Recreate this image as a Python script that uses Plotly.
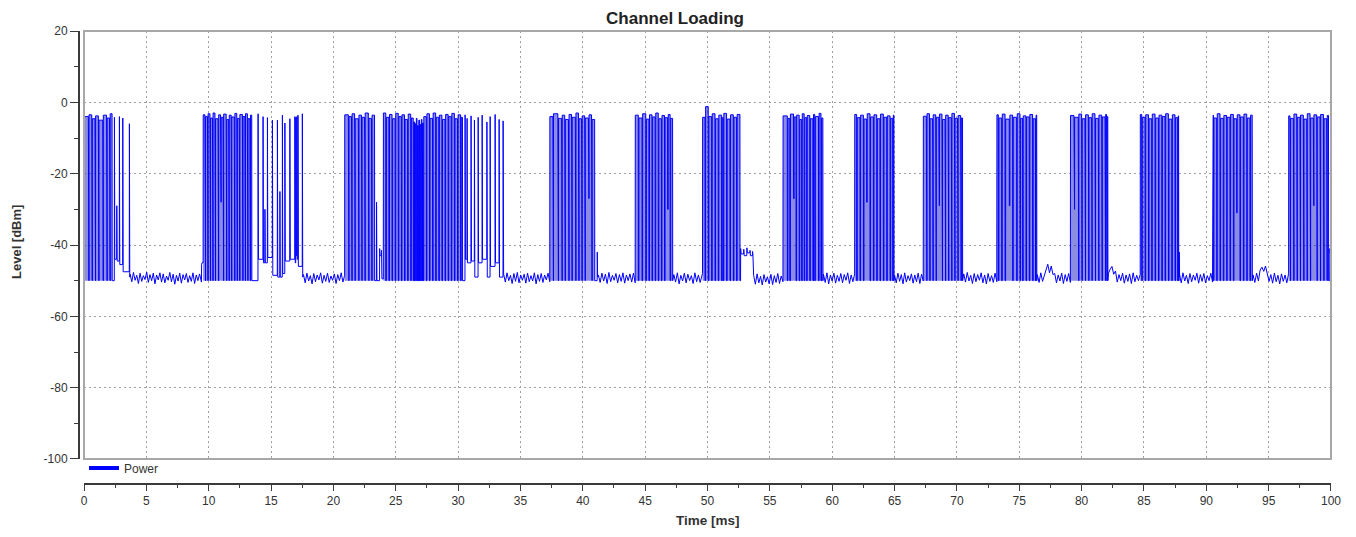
import numpy as np
import plotly.graph_objects as go

# ---------------- data ----------------
# burst windows [ms]
burst_start = [0.0, 9.4, 20.9, 37.35, 44.2, 49.55, 56.05, 61.8, 67.3, 73.2, 79.1, 84.7, 90.5, 96.6]
burst_end = [3.7, 17.6, 33.65, 41.25, 47.3, 53.7, 59.3, 65.0, 70.55, 76.45, 82.15, 87.85, 93.75, 100.0]

# continuously-on parts of each burst: (start ms, end ms, level dBm at start)
dense_blocks = [
    [(0.0, 2.25, -4.0)],
    [(9.55, 13.45, -3.5)],
    [(20.9, 23.3, -3.5), (24.0, 30.35, -3.0)],
    [(37.35, 40.95, -4.0)],
    [(44.2, 47.2, -3.6)],
    [(49.6, 52.6, -4.2)],
    [(56.05, 59.25, -3.8)],
    [(61.8, 64.95, -3.4)],
    [(67.3, 70.45, -3.9)],
    [(73.2, 76.4, -3.5)],
    [(79.1, 82.1, -3.7)],
    [(84.7, 87.78, -3.4)],
    [(90.5, 93.68, -3.6)],
    [(96.6, 99.8, -3.8)],
]

# short drops inside the on-parts: (time ms, lowest level dBm, level after dBm)
drops = [
    [(0.35, -50, -3.5), (0.62, -50, -4.6), (0.88, -50, -3.8), (1.15, -50, -5.0), (1.5, -50, -3.6),
     (1.81, -50, -4.4), (2.05, -50, -3.2)],
    [(9.7, -50, -4.0), (9.9, -50, -3.2), (10.1, -50, -4.4), (10.3, -50, -3.0), (10.5, -50, -4.6),
     (10.75, -50, -3.5), (10.95, -28, -4.2), (11.15, -50, -3.3), (11.4, -50, -4.8), (11.6, -50, -3.6),
     (11.8, -50, -4.1), (12.05, -50, -3.1), (12.25, -50, -4.5), (12.45, -50, -3.4), (12.7, -50, -4.0),
     (12.9, -50, -3.2), (13.1, -50, -4.6), (13.3, -50, -3.6)],
    [(21.2, -50, -4.0), (21.45, -50, -3.2), (21.7, -50, -4.6), (22.0, -50, -3.6), (22.25, -50, -4.2),
     (22.5, -50, -3.0), (22.8, -50, -4.5), (23.05, -50, -3.6),
     (24.2, -50, -4.2), (24.45, -50, -3.4), (24.7, -50, -4.6), (24.95, -50, -3.1), (25.2, -50, -4.0),
     (25.45, -50, -3.5), (25.7, -50, -4.8), (25.95, -50, -3.3), (26.2, -50, -4.4), (26.4, -50, -5.5),
     (26.5, -50, -6.0), (26.6, -50, -4.5), (26.7, -50, -6.5), (26.8, -50, -5.0), (26.9, -50, -6.2),
     (27.0, -50, -4.8), (27.1, -50, -5.8), (27.2, -50, -4.0), (27.45, -50, -3.2), (27.7, -50, -4.5),
     (27.95, -50, -3.0), (28.2, -50, -4.2), (28.45, -50, -3.6), (28.7, -50, -4.8), (28.95, -50, -3.4),
     (29.2, -50, -4.0), (29.45, -50, -3.1), (29.7, -50, -4.6), (29.95, -50, -3.5), (30.2, -50, -4.2)],
    [(37.6, -50, -3.2), (38.0, -50, -4.5), (38.3, -50, -3.6), (38.55, -50, -4.8), (38.85, -50, -3.4),
     (39.1, -50, -4.2), (39.4, -50, -3.0), (39.65, -50, -4.6), (39.9, -50, -3.8), (40.15, -50, -4.4),
     (40.45, -27, -3.5), (40.7, -50, -4.8)],
    [(44.45, -50, -4.4), (44.75, -50, -3.2), (45.05, -50, -4.7), (45.3, -50, -3.5), (45.55, -50, -4.1),
     (45.8, -50, -3.0), (46.05, -50, -4.6), (46.3, -50, -3.7), (46.55, -50, -4.3), (46.8, -30, -3.4),
     (47.0, -50, -4.5)],
    [(49.8, -50, -1.2), (50.06, -50, -4.0), (50.33, -50, -3.2), (50.6, -50, -4.6), (50.86, -50, -3.6),
     (51.13, -50, -4.3), (51.26, -50, -3.1), (51.53, -50, -4.7), (51.8, -50, -3.5), (52.07, -50, -4.2),
     (52.33, -50, -3.4)],
    [(56.4, -50, -4.5), (56.6, -50, -3.3), (56.9, -27, -4.1), (57.1, -50, -3.6), (57.35, -50, -4.8),
     (57.55, -50, -3.2), (57.75, -50, -4.3), (57.95, -50, -3.7), (58.2, -50, -4.6), (58.45, -50, -3.4),
     (58.6, -50, -4.0), (58.9, -50, -3.1), (59.1, -50, -4.4)],
    [(61.96, -50, -4.3), (62.23, -50, -3.6), (62.5, -50, -4.7), (62.76, -28, -3.2), (63.03, -50, -4.1),
     (63.3, -50, -3.5), (63.57, -50, -4.6), (63.83, -50, -3.3), (64.1, -50, -4.2), (64.37, -50, -3.8),
     (64.64, -50, -4.5), (64.85, -50, -3.6)],
    [(67.55, -50, -3.2), (67.8, -50, -4.6), (68.05, -50, -3.5), (68.3, -50, -4.2), (68.55, -29, -3.3),
     (68.8, -50, -4.8), (69.05, -50, -3.6), (69.3, -50, -4.3), (69.55, -50, -3.1), (69.8, -50, -4.5),
     (70.05, -50, -3.7), (70.3, -50, -4.4)],
    [(73.32, -50, -4.4), (73.59, -50, -3.3), (73.86, -50, -4.7), (74.2, -29, -3.6), (74.47, -50, -4.2),
     (74.79, -50, -3.2), (75.06, -50, -4.5), (75.27, -50, -3.8), (75.54, -50, -4.1), (75.8, -50, -3.4),
     (76.07, -50, -4.6), (76.3, -50, -3.6)],
    [(79.39, -30, -4.2), (79.73, -50, -3.3), (80.0, -50, -4.6), (80.27, -50, -3.5), (80.54, -50, -4.3),
     (80.8, -50, -3.2), (81.07, -50, -4.5), (81.34, -50, -3.6), (81.61, -50, -4.1), (81.88, -50, -3.4),
     (82.0, -50, -4.0)],
    [(84.82, -50, -4.2), (85.09, -50, -3.5), (85.36, -50, -4.6), (85.62, -50, -3.3), (85.89, -50, -4.4),
     (86.16, -50, -3.6), (86.43, -50, -4.0), (86.69, -50, -3.2), (86.96, -50, -4.7), (87.23, -50, -3.5),
     (87.49, -50, -4.3), (87.7, -50, -3.8)],
    [(90.56, -50, -4.4), (90.83, -50, -3.2), (91.1, -50, -4.5), (91.36, -50, -3.7), (91.63, -50, -4.2),
     (91.9, -50, -3.4), (92.17, -50, -4.6), (92.43, -31, -3.5), (92.7, -50, -4.1), (92.97, -50, -3.3),
     (93.24, -50, -4.4), (93.5, -50, -3.6)],
    [(96.71, -50, -4.5), (96.98, -50, -3.3), (97.25, -50, -4.2), (97.51, -50, -3.6), (97.78, -50, -4.7),
     (98.05, -50, -3.2), (98.32, -50, -4.4), (98.58, -29, -3.5), (98.85, -50, -4.1), (99.12, -50, -3.4),
     (99.39, -50, -4.6), (99.65, -50, -3.7)],
]

# isolated pulses: (time ms, peak dBm, level after dBm)
spikes = [
    [(2.43, -4.2, -44.0), (2.62, -29.0, -44.5), (2.83, -4.0, -45.5), (3.1, -4.4, -47.5), (3.63, -6.0, -49.0)],
    [(9.42, -45.5, -45.0), (13.95, -3.2, -44.0), (14.35, -4.0, -45.0), (14.5, -30.0, -45.0),
     (14.7, -4.3, -43.5), (15.1, -5.0, -48.5), (15.5, -5.0, -49.0), (15.7, -25.0, -49.0),
     (15.9, -3.6, -48.0), (16.1, -5.8, -44.5), (16.5, -4.6, -44.0), (16.9, -4.0, -45.0),
     (16.98, -4.2, -43.0), (17.06, -4.0, -44.0), (17.15, -3.6, -46.0), (17.5, -3.2, -49.0)],
    [(23.45, -28.0, -50.0), (23.7, -41.0, -43.0), (23.85, -41.5, -49.5),
     (30.55, -3.5, -44.0), (30.71, -4.5, -45.0), (31.03, -3.8, -44.5), (31.3, -5.0, -49.0),
     (31.6, -4.2, -45.0), (31.92, -3.6, -44.0), (32.3, -5.5, -49.0), (32.56, -4.0, -46.0),
     (32.96, -3.4, -45.0), (33.28, -4.8, -49.0), (33.6, -5.2, -49.0)],
    [(41.15, -42.0, -49.0)],
    [],
    [(52.65, -41.0, -42.5), (52.9, -41.2, -43.0), (53.15, -40.8, -42.2), (53.4, -41.5, -43.0),
     (53.6, -41.8, -42.6)],
    [], [], [], [], [],
    [(87.82, -42.0, -49.0)],
    [],
    [(99.9, -41.0, -42.5)],
]

# noise-floor readings between bursts [dBm], evenly spread over each gap
floor_readings = [
    [-48.2, -50.3, -47.7, -49.9, -48.5, -50.8, -47.9, -50.2, -48.6, -49.7, -47.6, -50.5, -48.3, -50.0,
     -47.9, -50.9, -48.4, -49.8, -47.8, -50.4, -48.1, -50.6, -48.7, -49.9, -47.7, -50.3, -48.2, -51.0,
     -48.5, -50.1, -47.9, -50.7, -48.3, -49.8, -48.0, -50.5, -48.6, -50.2, -47.8, -50.8, -48.4, -50.0,
     -48.1, -50.4],
    [-48.3, -50.6, -47.9, -50.1, -48.6, -50.9, -48.0, -50.3, -48.4, -49.8, -47.8, -50.7, -48.5, -50.2,
     -47.9, -50.5, -48.7, -49.9, -48.1, -50.8, -48.3, -50.0, -47.8, -50.4, -48.5],
    [-48.1, -50.4, -47.8, -50.0, -48.5, -50.8, -48.0, -50.2, -47.7, -50.6, -48.4, -49.9, -48.2, -50.7,
     -47.9, -50.3, -48.6, -50.1, -47.8, -50.9, -48.3, -50.2, -48.0, -50.5, -48.4, -49.8, -47.9, -50.3],
    [-48.4, -50.5, -47.9, -50.1, -48.2, -50.8, -47.7, -50.3, -48.5, -49.9, -48.0, -50.6, -48.3, -50.2,
     -47.8, -50.7, -48.4, -50.0, -48.1, -50.4, -47.9, -50.6],
    [-48.3, -50.4, -47.8, -50.9, -48.5, -50.1, -47.9, -50.6, -48.2, -50.0, -48.6, -50.8, -47.8, -50.3,
     -48.4, -50.5, -48.0],
    [-48.5, -51.0, -48.1, -50.6, -48.8, -51.2, -48.3, -50.4, -48.9, -50.9, -48.2, -51.1, -48.6, -50.5,
     -48.0, -50.8, -48.7, -50.3],
    [-48.2, -50.5, -47.8, -50.9, -48.4, -50.1, -47.9, -50.7, -48.5, -50.2, -48.0, -50.6, -48.3, -49.9,
     -47.8, -50.8, -48.4, -50.3, -48.1],
    [-48.4, -50.6, -47.9, -50.2, -48.3, -50.9, -47.8, -50.4, -48.6, -50.0, -48.1, -50.7, -48.4, -50.3,
     -47.9, -50.8, -48.2, -50.1],
    [-48.1, -50.4, -47.7, -50.1, -48.5, -50.8, -48.0, -50.3, -48.3, -49.9, -47.8, -50.6, -48.4, -50.9,
     -48.0, -50.2, -48.6, -50.5, -47.9, -50.3],
    [-48.3, -50.5, -47.8, -50.2, -48.4, -47.0, -45.4, -47.8, -45.9, -48.3, -48.0, -50.6, -48.4, -50.1,
     -47.9, -50.8, -48.3, -50.2, -48.0, -50.5],
    [-48.0, -46.8, -46.0, -48.2, -47.3, -50.4, -48.3, -50.0, -47.9, -50.7, -48.4, -50.2, -48.1, -50.8,
     -47.8, -50.3, -48.5, -50.0, -48.2],
    [-48.2, -50.6, -47.8, -50.1, -48.5, -50.8, -48.0, -50.3, -48.4, -49.9, -47.9, -50.7, -48.3, -50.2,
     -48.0, -50.6, -48.6, -50.0, -47.9, -50.4],
    [-48.4, -50.5, -47.9, -50.1, -47.0, -46.2, -47.4, -45.9, -48.0, -50.2, -48.3, -50.7, -47.9, -50.3,
     -48.5, -50.9, -48.1, -50.2, -48.4, -50.6, -48.0],
]

x_ticks = [0, 5, 10, 15, 20, 25, 30, 35, 40, 45, 50, 55, 60, 65, 70, 75, 80, 85, 90, 95, 100]
y_ticks = [20, 0, -20, -40, -60, -80, -100]

# ---------------- build the trace from the readings ----------------
xs, ys = [], []          # full power trace
sx, sy = [], []          # shading of the continuously-on parts

cur = -50.0
xs.append(0.0); ys.append(cur)
for i in range(len(burst_start)):
    items = [(b[0], 0, b) for b in dense_blocks[i]] + [(s[0], 1, s) for s in spikes[i]]
    items.sort(key=lambda it: it[0])
    for _, kind, it in items:
        if kind == 0:
            b0, b1, top = it
            seg = [(b0, cur), (b0 + 0.01, top)]
            for (d, low, after) in drops[i]:
                if b0 <= d <= b1:
                    seg += [(d, top), (d + 0.005, low), (d + 0.045, low), (d + 0.05, after)]
                    top = after
            seg += [(b1, top), (b1 + 0.01, -50.0)]
            for p in seg:
                xs.append(p[0]); ys.append(p[1])
            shade = [(b0, -50.0)] + seg[1:]
            for p in shade:
                sx.append(p[0]); sy.append(p[1])
            sx.append(None); sy.append(None)
            cur = -50.0
        else:
            t, peak, base = it
            xs += [t, t + 0.01, t + 0.04]
            ys += [cur, peak, base]
            cur = base
    if i < len(floor_readings):
        rd = floor_readings[i]
        tt = np.linspace(burst_end[i], burst_start[i + 1], len(rd))
        xs += list(tt); ys += list(rd)
        cur = rd[-1]
    else:
        xs.append(burst_end[i]); ys.append(cur)

# ---------------- figure ----------------
FONT = "Liberation Sans, Arial, sans-serif"
W, H = 1340, 521          # page body adds an 8 px margin around the figure
x_dom0 = 0.004
y_dom0 = 0.0552

fig = go.Figure()
fig.add_trace(go.Scatter(
    x=sx, y=sy, mode="lines", line=dict(width=0, color="rgba(0,0,0,0)"),
    fill="toself", fillcolor="rgba(25,25,195,0.5)", hoverinfo="skip", showlegend=False))
fig.add_trace(go.Scatter(
    x=xs, y=ys, mode="lines", line=dict(color="#0000ff", width=1),
    name="Power", showlegend=False))
fig.add_trace(go.Scatter(
    x=[None], y=[None], mode="lines", line=dict(color="#0000ff", width=4),
    name="Power", showlegend=True))

axis_common = dict(
    showline=True, linecolor="#3a3a3a", linewidth=2, automargin=False,
    ticks="outside", tickcolor="#3a3a3a", tickwidth=1,
    showgrid=True, gridcolor="#a0a0a0", gridwidth=1, griddash="2px,3px",
    zeroline=False, tickfont=dict(family=FONT, size=12, color="#333333"),
)

fig.update_layout(
    width=W, height=H, autosize=False,
    margin=dict(l=71, r=17, t=23, b=45, pad=0),
    paper_bgcolor="white", plot_bgcolor="white",
    font=dict(family=FONT, color="#333333"),
    title=dict(text="<b>Channel Loading</b>", x=667 / W, xanchor="center",
               y=1 - 10 / H, yanchor="middle", font=dict(family=FONT, size=17, color="#222222")),
    xaxis=dict(domain=[x_dom0, 1], range=[0, 100], anchor="free", position=0,
               tickmode="array", tickvals=x_ticks, ticktext=[str(v) for v in x_ticks], ticklen=6,
               minor=dict(dtick=2.5, ticks="outside", ticklen=3, tickcolor="#3a3a3a", showgrid=False),
               **axis_common),
    yaxis=dict(domain=[y_dom0, 1], range=[-100, 20], anchor="free", position=0,
               tickmode="array", tickvals=y_ticks, ticktext=[str(v) for v in y_ticks], ticklen=8,
               minor=dict(dtick=10, ticks="outside", ticklen=4, tickcolor="#3a3a3a", showgrid=False),
               **axis_common),
    legend=dict(x=0.004, y=(484 - 468) / 453, xanchor="left", yanchor="middle",
                bgcolor="rgba(0,0,0,0)", borderwidth=0,
                font=dict(family=FONT, size=12, color="#333333")),
    shapes=[dict(type="rect", xref="paper", yref="paper", x0=x_dom0, x1=1, y0=y_dom0, y1=1,
                 line=dict(color="#a8a8a8", width=2), layer="above")],
    annotations=[
        dict(text="<b>Time [ms]</b>", xref="paper", yref="paper", x=(708 - 79) / 1252,
             y=(484 - 520) / 453, xanchor="center", yanchor="middle", showarrow=False,
             font=dict(family=FONT, size=13.5, color="#333333")),
        dict(text="<b>Level [dBm]</b>", xref="paper", yref="paper", x=(16 - 79) / 1252,
             y=(484 - 242) / 453, xanchor="center", yanchor="middle", showarrow=False,
             textangle=-90, font=dict(family=FONT, size=13, color="#333333")),
    ],
)

fig.write_html("out.html")
